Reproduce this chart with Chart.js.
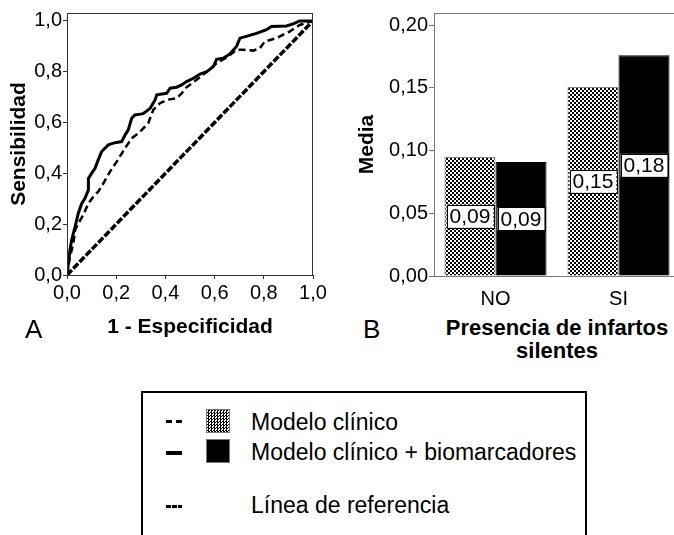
<!DOCTYPE html>
<html>
<head>
<meta charset="utf-8">
<script src="https://cdn.jsdelivr.net/npm/chart.js@4.4.1/dist/chart.umd.min.js"></script>
<style>
  html, body { margin: 0; padding: 0; background: #fff; overflow: hidden; width: 674px; height: 535px; }
  body { position: relative; font-family: Arial, "Liberation Sans", sans-serif; color: #000; }
  #rocWrap { position: absolute; left: 0; top: 0; width: 340px; height: 345px; }
  #barWrap { position: absolute; left: 340px; top: 0; width: 360px; height: 310px; }
  .panel { position: absolute; font-size: 26px; line-height: 30px; }
  .xtitle { position: absolute; left: 397px; top: 316px; width: 320px; text-align: center;
            font-weight: bold; font-size: 22px; line-height: 23px; }
  .legend { position: absolute; left: 141px; top: 391px; width: 442px; height: 170px;
            border: 2.5px solid #000; }
  .sym { position: absolute; background: #000; }
  .sq { position: absolute; width: 22px; height: 22px; border: 1px solid #777; }
  .lbl { position: absolute; left: 108px; font-size: 23px; line-height: 26px; white-space: nowrap; }
</style>
</head>
<body>
<div id="rocWrap"><canvas id="roc" width="340" height="345"></canvas></div>
<div id="barWrap"><canvas id="bars" width="360" height="310"></canvas></div>

<div class="panel" style="left:25px; top:314px;">A</div>
<div class="panel" style="left:363px; top:314px;">B</div>
<div class="xtitle">Presencia de infartos<br>silentes</div>

<div class="legend">
  <!-- discontinua: modelo clinico -->
  <div class="sym" style="left:23px; top:27px; width:6px; height:3px;"></div>
  <div class="sym" style="left:33px; top:27px; width:6px; height:3px;"></div>
  <!-- continua: + biomarcadores -->
  <div class="sym" style="left:23px; top:58px; width:16px; height:4px;"></div>
  <!-- referencia -->
  <div class="sym" style="left:23px; top:112px; width:16px; height:3px;
       background: repeating-linear-gradient(90deg, #000 0 5px, #fff 5px 6px);"></div>
  <div class="sq" style="left:63px; top:16px;
       background-color:#fff;
       background-image: repeating-conic-gradient(#000 0 25%, #fff 0 50%);
       background-size: 3px 3px;"></div>
  <div class="sq" style="left:63px; top:46px; background:#000;"></div>
  <div class="lbl" style="top:16px;">Modelo clínico</div>
  <div class="lbl" style="top:46px;">Modelo clínico + biomarcadores</div>
  <div class="lbl" style="top:99px;">Línea de referencia</div>
</div>

<script>
Chart.defaults.font.family = 'Arial, "Liberation Sans", sans-serif';
Chart.defaults.color = '#000';

// --- Panel A: curvas ROC ---
const rocTicks = [0, 0.2, 0.4, 0.6, 0.8, 1.0];

const clinicoFpr = [0, 0.012, 0.026, 0.033, 0.046, 0.066, 0.087, 0.107, 0.127, 0.148,
  0.175, 0.202, 0.236, 0.263, 0.297, 0.330, 0.351, 0.378, 0.405, 0.446,
  0.466, 0.486, 0.527, 0.568, 0.608, 0.649, 0.689, 0.716, 0.757, 0.784,
  0.804, 0.851, 0.905, 0.946, 1.0];
const clinicoTpr = [0, 0.072, 0.125, 0.177, 0.203, 0.236, 0.282, 0.308, 0.328, 0.361,
  0.407, 0.446, 0.499, 0.538, 0.564, 0.597, 0.650, 0.676, 0.689, 0.696,
  0.715, 0.739, 0.768, 0.800, 0.833, 0.856, 0.886, 0.886, 0.883, 0.892,
  0.919, 0.932, 0.958, 0.984, 1.0];

const bioFpr = [0, 0.012, 0.019, 0.033, 0.046, 0.060, 0.073, 0.087, 0.087, 0.100,
  0.114, 0.127, 0.141, 0.154, 0.168, 0.188, 0.222, 0.236, 0.249, 0.263,
  0.276, 0.304, 0.311, 0.330, 0.338, 0.358, 0.365, 0.405, 0.419, 0.446,
  0.466, 0.486, 0.514, 0.541, 0.568, 0.595, 0.608, 0.635, 0.662, 0.689,
  0.703, 0.736, 0.770, 0.811, 0.831, 0.892, 0.919, 0.946, 1.0];
const bioTpr = [0, 0.098, 0.138, 0.190, 0.243, 0.282, 0.302, 0.335, 0.380, 0.400,
  0.420, 0.453, 0.486, 0.499, 0.512, 0.519, 0.525, 0.551, 0.571, 0.617,
  0.630, 0.634, 0.636, 0.650, 0.656, 0.689, 0.709, 0.715, 0.735, 0.739,
  0.748, 0.761, 0.774, 0.791, 0.800, 0.820, 0.849, 0.853, 0.870, 0.899,
  0.932, 0.941, 0.951, 0.965, 0.978, 0.980, 0.988, 1.0, 1.0];

const refFpr = [0, 1];
const refTpr = [0, 1];

// --- Panel B: medias ---
const grupos = ['NO', 'SI'];
const mediaClinico = [0.0948, 0.1506];
const mediaBio = [0.0908, 0.176];
const mediaTicks = [0, 0.05, 0.10, 0.15, 0.20];

const toPts = (xs, ys) => xs.map((x, i) => ({ x: x, y: ys[i] }));
const coma = (v, d) => v.toFixed(d).replace('.', ',');

// marco completo alrededor del area de trazado
const framePlugin = {
  id: 'frame',
  afterDraw(chart, args, opts) {
    const { ctx, chartArea: a } = chart;
    ctx.save();
    ctx.strokeStyle = opts.color;
    ctx.lineWidth = 1;
    ctx.strokeRect(a.left + 0.5, a.top + 0.5, a.right - a.left - 1, a.bottom - a.top);
    ctx.restore();
  }
};

// etiquetas con caja blanca en el centro de cada barra
const boxLabels = {
  id: 'boxLabels',
  afterDatasetsDraw(chart) {
    const ctx = chart.ctx;
    ctx.save();
    ctx.font = '21px Arial, "Liberation Sans", sans-serif';
    ctx.textAlign = 'center';
    ctx.textBaseline = 'middle';
    chart.data.datasets.forEach((ds, di) => {
      chart.getDatasetMeta(di).data.forEach((bar, i) => {
        const txt = coma(ds.data[i], 2);
        const w = ctx.measureText(txt).width + 6;
        const h = 23;
        const cy = (bar.y + bar.base) / 2;
        ctx.fillStyle = '#fff';
        ctx.fillRect(bar.x - w / 2, cy - h / 2, w, h);
        ctx.strokeStyle = '#000';
        ctx.lineWidth = 1;
        ctx.strokeRect(Math.round(bar.x - w / 2) + 0.5, Math.round(cy - h / 2) + 0.5, Math.round(w), h);
        ctx.fillStyle = '#000';
        ctx.fillText(txt, bar.x, cy + 1);
      });
    });
    ctx.restore();
  }
};

function checker() {
  const c = document.createElement('canvas');
  c.width = 4; c.height = 4;
  const g = c.getContext('2d');
  g.fillStyle = '#fff';
  g.fillRect(0, 0, 4, 4);
  g.fillStyle = '#000';
  g.fillRect(0, 0, 2, 2);
  g.fillRect(2, 2, 2, 2);
  return g.createPattern(c, 'repeat');
}

new Chart(document.getElementById('roc'), {
  type: 'scatter',
  data: {
    datasets: [
      { data: toPts(refFpr, refTpr), showLine: true, borderColor: '#000', borderWidth: 3.5,
        borderDash: [7, 2], pointRadius: 0, tension: 0 },
      { data: toPts(clinicoFpr, clinicoTpr), showLine: true, borderColor: '#000', borderWidth: 2.5,
        borderDash: [7, 4], pointRadius: 0, tension: 0 },
      { data: toPts(bioFpr, bioTpr), showLine: true, borderColor: '#000', borderWidth: 3,
        pointRadius: 0, tension: 0 }
    ]
  },
  options: {
    responsive: false,
    animation: false,
    layout: { padding: { left: 0, right: 27, top: 13, bottom: 5 } },
    plugins: { legend: { display: false }, tooltip: { enabled: false }, frame: { color: '#333' } },
    scales: {
      x: {
        type: 'linear', min: 0, max: 1,
        afterBuildTicks: s => { s.ticks = rocTicks.map(v => ({ value: v })); },
        afterFit: s => { s.height = 65; },
        ticks: { font: { size: 20 }, padding: 2, maxRotation: 0, callback: v => coma(v, 1) },
        grid: { drawOnChartArea: false, tickLength: 4, color: '#333' },
        border: { color: '#333' },
        title: { display: true, text: '1 - Especificidad', font: { size: 21, weight: 'bold' },
                 padding: { top: 0, bottom: 0 } }
      },
      y: {
        min: 0, max: 1.031,
        afterBuildTicks: s => { s.ticks = rocTicks.map(v => ({ value: v })); },
        afterFit: s => { s.width = 67; },
        ticks: { font: { size: 20 }, padding: 1, callback: v => coma(v, 1) },
        grid: { drawOnChartArea: false, tickLength: 4, color: '#333' },
        border: { color: '#333' },
        title: { display: true, text: 'Sensibilidad', font: { size: 21, weight: 'bold' },
                 padding: { top: 7, bottom: 0 } }
      }
    }
  },
  plugins: [framePlugin]
});

new Chart(document.getElementById('bars'), {
  type: 'bar',
  data: {
    labels: grupos,
    datasets: [
      { label: 'Modelo clínico', data: mediaClinico, backgroundColor: checker(),
        borderColor: '#888', borderWidth: 1 },
      { label: 'Modelo clínico + biomarcadores', data: mediaBio, backgroundColor: '#000',
        borderColor: '#000', borderWidth: 1 }
    ]
  },
  options: {
    responsive: false,
    animation: false,
    categoryPercentage: 0.83,
    barPercentage: 1.0,
    layout: { padding: { left: 0, right: 20, top: 13, bottom: 4 } },
    plugins: { legend: { display: false }, tooltip: { enabled: false }, frame: { color: '#777' } },
    scales: {
      x: {
        afterFit: s => { s.height = 30; },
        ticks: { font: { size: 20 }, padding: 3 },
        grid: { display: false },
        border: { color: '#777' }
      },
      y: {
        min: 0, max: 0.2096,
        afterBuildTicks: s => { s.ticks = mediaTicks.map(v => ({ value: v })); },
        afterFit: s => { s.width = 94; },
        ticks: { font: { size: 20 }, padding: 1, callback: v => coma(v, 2) },
        grid: { drawOnChartArea: false, tickLength: 5, color: '#777' },
        border: { color: '#777' },
        title: { display: true, text: 'Media', font: { size: 21, weight: 'bold' },
                 padding: { top: 15, bottom: 0 } }
      }
    }
  },
  plugins: [framePlugin, boxLabels]
});
</script>
</body>
</html>
